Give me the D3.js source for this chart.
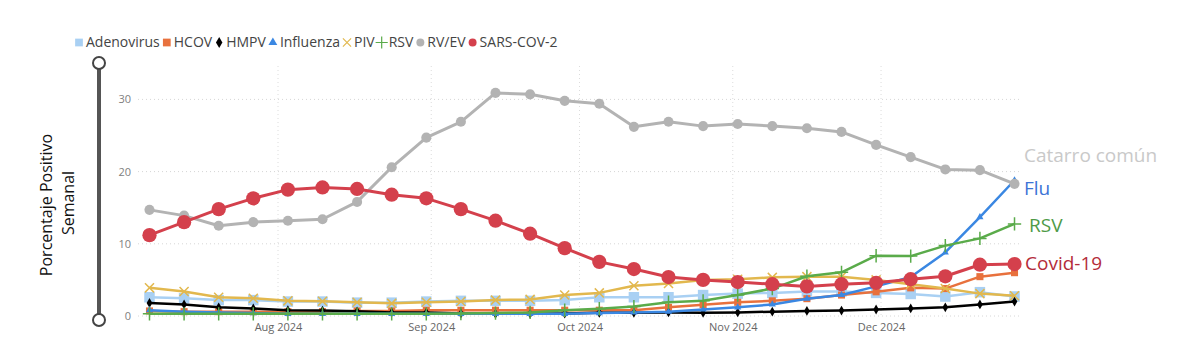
<!DOCTYPE html>
<html>
<head>
<meta charset="utf-8">
<script src="https://cdn.jsdelivr.net/npm/d3@7"></script>
<style>
  body { margin: 0; background: #fff; }
  text { font-family: "Open Sans", "Noto Sans", sans-serif; }
</style>
</head>
<body>
<div id="chart"></div>
<script>
const weeks = ["2024-07-06","2024-07-13","2024-07-20","2024-07-27","2024-08-03","2024-08-10","2024-08-17",
  "2024-08-24","2024-08-31","2024-09-07","2024-09-14","2024-09-21","2024-09-28","2024-10-05","2024-10-12",
  "2024-10-19","2024-10-26","2024-11-02","2024-11-09","2024-11-16","2024-11-23","2024-11-30","2024-12-07",
  "2024-12-14","2024-12-21","2024-12-28"];

const adeno = [2.6,2.45,2.2,2.2,2.0,2.0,1.85,1.85,2.0,2.1,2.1,2.1,2.2,2.6,2.6,2.6,2.9,3.1,3.2,3.4,3.4,3.2,3.05,2.7,3.3,2.7];
const hcov  = [0.7,0.6,0.6,0.6,0.6,0.6,0.7,0.7,0.8,0.8,0.8,0.8,0.8,0.8,0.8,1.2,1.55,1.9,2.1,2.4,2.9,3.35,3.9,3.8,5.45,6.0];
const hmpv  = [1.8,1.6,1.2,1.05,0.8,0.75,0.65,0.5,0.5,0.35,0.3,0.3,0.35,0.45,0.45,0.5,0.45,0.5,0.6,0.7,0.75,0.9,1.05,1.2,1.6,2.0];
const flu   = [0.8,0.6,0.5,0.4,0.3,0.3,0.3,0.3,0.3,0.3,0.3,0.3,0.3,0.4,0.5,0.6,0.9,1.2,1.6,2.4,2.9,4.1,5.4,8.8,13.7,18.8];
const piv   = [3.9,3.4,2.6,2.45,2.1,2.05,1.9,1.75,1.9,2.0,2.2,2.3,2.9,3.2,4.2,4.5,5.0,5.1,5.35,5.45,5.45,5.0,4.4,3.8,3.1,2.8];
const rsv   = [0.3,0.3,0.3,0.3,0.3,0.3,0.3,0.3,0.3,0.35,0.4,0.5,0.8,1.0,1.3,1.9,2.1,2.9,3.8,5.5,6.05,8.35,8.3,9.75,10.75,12.75];
const rvev  = [14.7,13.9,12.5,13.0,13.2,13.4,15.8,20.6,24.7,26.9,30.9,30.7,29.8,29.4,26.2,26.9,26.3,26.6,26.3,26.0,25.5,23.7,22.0,20.3,20.2,18.3];
const sars  = [11.2,13.0,14.8,16.3,17.5,17.8,17.6,16.8,16.3,14.8,13.2,11.4,9.4,7.5,6.5,5.4,5.0,4.7,4.4,4.1,4.4,4.6,5.1,5.5,7.1,7.2];

const seriesNames = ["Adenovirus","HCOV","HMPV","Influenza","PIV","RSV","RV/EV","SARS-COV-2"];
const yTicks = [0, 10, 20, 30];
const monthTicks = ["2024-08-01","2024-09-01","2024-10-01","2024-11-01","2024-12-01"];
const annotations = ["Catarro común","Flu","RSV","Covid-19"];
const annotationValues = [22.3, 17.7, 12.6, 7.3];

const width = 1192, height = 350;
const parse = d3.timeParse("%Y-%m-%d");

// look of each series, in legend order
const styles = [
  {values: adeno, color: "#a9d0f3", sym: d3.symbolSquare, size: 110, lw: 2.5, fill: true, lsize: 60},
  {values: hcov,  color: "#e8713d", sym: d3.symbolSquare, size: 50,  lw: 2.5, fill: true, lsize: 60},
  {values: hmpv,  color: "#000000", sym: d3.symbolDiamond, size: 28, lw: 2.5, fill: true, lsize: 36},
  {values: flu,   color: "#3a87e2", sym: d3.symbolTriangle, size: 22, lw: 2.5, fill: true, lsize: 34},
  {values: piv,   color: "#e2b84e", sym: d3.symbolX, size: 55, lw: 2.5, fill: false, lsize: 45},
  {values: rsv,   color: "#5aab4a", sym: d3.symbolPlus, size: 60, lw: 2.5, fill: false, lsize: 50},
  {values: rvev,  color: "#b3b3b3", sym: d3.symbolCircle, size: 80, lw: 3, fill: true, lsize: 50},
  {values: sars,  color: "#d4404c", sym: d3.symbolCircle, size: 160, lw: 3, fill: true, lsize: 50}
];

const x = d3.scaleTime()
  .domain([parse("2024-07-04"), parse("2024-12-30")])
  .range([139.6, 1024.4]);

const y = d3.scaleLinear()
  .domain([0, 30])
  .range([316, 99.4]);

const svg = d3.select("#chart").append("svg").attr("width", width).attr("height", height);

// gridlines
svg.append("g").selectAll("line")
  .data(yTicks)
  .enter().append("line")
  .attr("x1", 138).attr("x2", 1022)
  .attr("y1", d => y(d)).attr("y2", d => y(d))
  .attr("stroke", "#d6d6d6").attr("stroke-width", 1).attr("stroke-dasharray", "1,3");

svg.append("g").selectAll("line")
  .data(monthTicks)
  .enter().append("line")
  .attr("x1", d => x(parse(d))).attr("x2", d => x(parse(d)))
  .attr("y1", 66).attr("y2", 316)
  .attr("stroke", "#dcdcdc").attr("stroke-width", 1).attr("stroke-dasharray", "1,3");

// axes (labels only)
const yAxis = d3.axisLeft(y).tickValues(yTicks).tickSize(0).tickPadding(0);
svg.append("g")
  .attr("transform", "translate(131,0)")
  .call(yAxis)
  .call(g => g.select(".domain").remove())
  .call(g => g.selectAll("text").attr("fill", "#808080").attr("font-size", 11).attr("font-family", "'Open Sans', sans-serif"));

const xAxis = d3.axisBottom(x).tickValues(monthTicks.map(parse)).tickFormat(d3.timeFormat("%b %Y")).tickSize(0).tickPadding(0);
svg.append("g")
  .attr("transform", "translate(0,323)")
  .call(xAxis)
  .call(g => g.select(".domain").remove())
  .call(g => g.selectAll("text").attr("fill", "#666").attr("font-size", 11).attr("font-family", "'Open Sans', sans-serif"));

// decorative slider axis on the left
svg.append("line")
  .attr("x1", 99).attr("x2", 99).attr("y1", 63).attr("y2", 320)
  .attr("stroke", "#555").attr("stroke-width", 4);
svg.selectAll("circle.knob")
  .data([63, 320])
  .enter().append("circle")
  .attr("class", "knob")
  .attr("cx", 99).attr("cy", d => d).attr("r", 6)
  .attr("fill", "#fff").attr("stroke", "#444").attr("stroke-width", 2);

// y axis title
svg.append("text")
  .attr("transform", "translate(52,205) rotate(-90)")
  .attr("text-anchor", "middle")
  .attr("font-size", 16).attr("fill", "#111")
  .text("Porcentaje Positivo");
svg.append("text")
  .attr("transform", "translate(74,203) rotate(-90)")
  .attr("text-anchor", "middle")
  .attr("font-size", 16).attr("fill", "#111")
  .text("Semanal");

// lines + markers
const line = d3.line().x((d, i) => x(parse(weeks[i]))).y(d => y(d));

styles.forEach((s, k) => {
  let g = svg.append("g").attr("class", "series s" + k);
  g.append("path")
    .attr("d", line(s.values))
    .attr("fill", "none").attr("stroke", s.color).attr("stroke-width", s.lw)
    .attr("stroke-linejoin", "round");
  g.selectAll("path.mark")
    .data(s.values)
    .enter().append("path")
    .attr("class", "mark")
    .attr("transform", (d, i) => `translate(${x(parse(weeks[i]))},${y(d)})`)
    .attr("d", d3.symbol().type(s.sym).size(s.size))
    .attr("fill", s.fill ? s.color : "none")
    .attr("stroke", s.fill ? "none" : s.color)
    .attr("stroke-width", s.fill ? 0 : 1.5);
});

// legend, laid out one after another
let legend = svg.append("g").attr("transform", "translate(0,42.5)");
let lx = 79;
seriesNames.forEach((name, k) => {
  let s = styles[k];
  legend.append("path")
    .attr("transform", `translate(${lx},0)`)
    .attr("d", d3.symbol().type(s.sym).size(s.lsize))
    .attr("fill", s.fill ? s.color : "none")
    .attr("stroke", s.fill ? "none" : s.color)
    .attr("stroke-width", s.fill ? 0 : 1.2);
  let t = legend.append("text")
    .attr("x", lx + 7).attr("y", 0).attr("dy", "0.35em")
    .attr("font-family", "Lato, 'Open Sans', sans-serif")
    .attr("font-size", 14).attr("fill", "#444")
    .text(name);
  lx += 7 + t.node().getComputedTextLength() + 7;
});

// right side labels
const annColors = ["#c9c9c9", "#3c74d6", "#4e9a47", "#b42c3a"];
const annX = [1024, 1024, 1029, 1025];
svg.append("g").selectAll("text")
  .data(annotations)
  .enter().append("text")
  .attr("x", (d, i) => annX[i])
  .attr("y", (d, i) => y(annotationValues[i]))
  .attr("dy", "0.35em")
  .attr("font-size", 19)
  .attr("fill", (d, i) => annColors[i])
  .text(d => d);
</script>
</body>
</html>
